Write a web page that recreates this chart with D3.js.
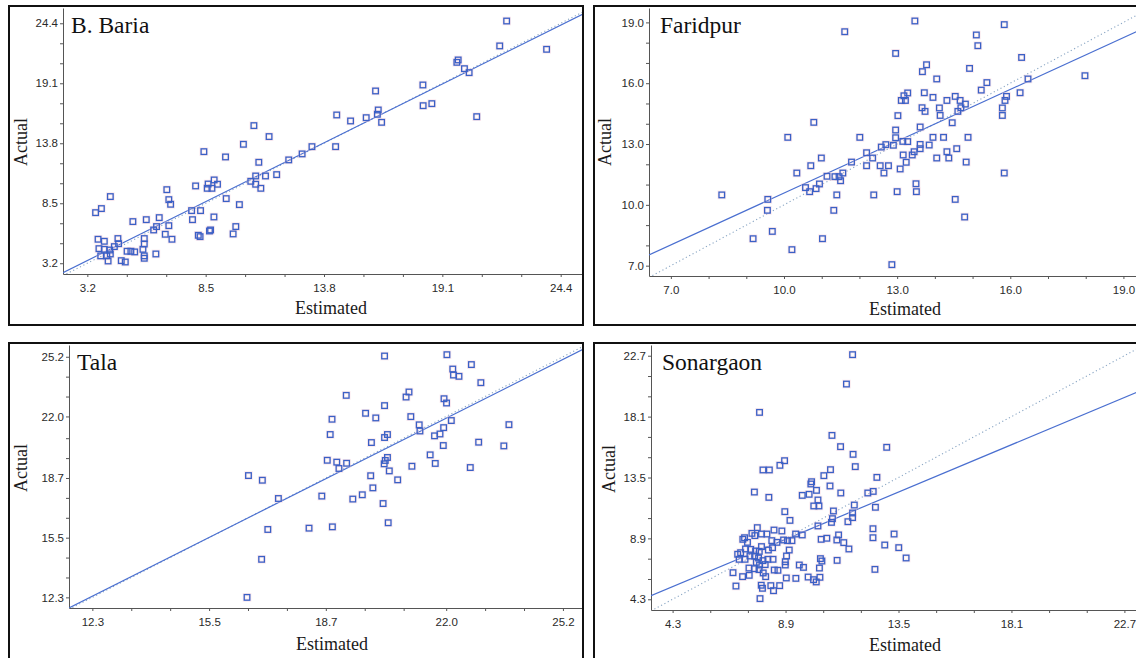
<!DOCTYPE html>
<html>
<head>
<meta charset="utf-8">
<script src="https://cdn.jsdelivr.net/npm/d3@7"></script>
<style>
  body { margin: 0; background: #fff; }
  svg { display: block; }
</style>
</head>
<body>
<svg id="chart" width="1136" height="658"></svg>
<script>
// ---- data ----
const bariaEst = [3.57,3.83,4.23,3.68,3.96,4.57,3.72,3.96,4.20,4.41,4.60,3.80,4.07,4.23,4.13,4.72,4.90,4.98,5.15,5.32,
  5.24,5.75,5.75,5.69,5.75,5.75,5.84,6.27,6.17,6.30,6.42,6.69,6.76,6.85,6.93,6.85,6.99,7.87,7.91,8.05,
  8.17,8.25,8.27,8.42,8.57,8.61,8.78,8.88,9.03,8.67,8.72,8.87,9.39,9.42,9.73,9.85,10.01,10.19,10.52,10.66,
  10.74,10.74,10.88,10.97,11.18,11.34,11.68,12.22,12.82,13.26,14.32,14.37,14.99,15.69,16.11,16.23,16.19,16.38,
  18.23,18.24,18.63,19.75,19.81,20.09,20.30,20.64,21.67,21.98,23.77];
const bariaAct = [7.67,8.03,9.09,5.32,5.14,5.38,4.49,4.43,4.37,4.67,4.93,3.85,3.85,4.02,3.40,3.43,3.31,4.26,4.26,4.20,
  6.88,5.38,4.90,4.43,3.85,3.64,7.05,4.02,6.14,6.44,7.23,5.76,9.70,8.82,8.41,6.52,5.32,7.85,7.05,10.03,
  5.67,5.55,7.85,13.06,9.82,10.20,9.82,10.56,10.18,6.05,6.14,7.29,12.59,8.91,5.79,6.44,8.38,13.71,10.44,15.36,
  10.91,10.18,12.12,9.82,10.91,14.39,11.03,12.33,12.86,13.50,13.50,16.30,15.77,16.06,18.42,16.74,16.36,15.65,
  18.95,17.12,17.30,20.95,21.16,20.39,20.04,16.15,22.40,24.60,22.10];

const faridpurEst = [8.35,11.61,10.79,10.10,12.01,9.18,9.57,9.56,9.69,10.21,11.02,10.34,10.71,10.99,10.57,10.68,10.85,10.94,11.14,11.32,
  11.40,11.35,11.46,11.50,11.56,11.79,12.19,12.19,12.35,12.38,12.55,12.58,12.65,13.47,15.84,12.96,15.10,15.14,13.78,13.67,
  14.05,14.92,16.30,16.47,17.98,15.38,15.23,16.26,15.90,15.86,15.79,15.79,13.28,13.18,13.11,13.22,13.72,13.95,14.32,14.54,
  14.67,14.81,14.69,14.61,13.66,13.74,14.12,14.14,13.02,14.46,13.61,12.96,12.96,13.95,14.23,14.88,12.70,12.90,13.15,13.28,
  13.61,13.61,13.85,12.77,13.08,13.16,13.24,13.40,13.45,14.05,14.37,14.32,14.58,14.83,15.84,13.50,13.51,13.00,14.54,14.79,
  12.86];
const faridpurAct = [10.49,18.54,14.07,13.33,13.33,8.33,10.27,9.73,8.69,7.79,8.33,11.57,11.93,12.31,10.85,10.65,10.80,11.03,11.41,9.73,
  10.49,11.39,11.39,11.19,11.57,12.11,12.57,11.93,12.31,10.49,11.93,12.85,11.57,19.07,18.89,17.47,18.38,17.85,16.91,16.57,
  16.21,16.73,17.27,16.21,16.37,16.03,15.66,15.53,15.35,15.15,14.78,14.41,15.52,15.38,15.15,15.15,15.53,15.30,15.15,15.35,
  15.15,14.97,14.79,14.61,14.79,14.61,14.78,14.41,14.40,14.05,13.84,13.69,13.31,13.33,13.33,13.33,12.97,12.94,13.13,13.12,
  12.98,12.77,12.95,11.93,11.77,12.46,12.10,12.46,12.62,12.31,12.31,12.62,12.77,12.11,11.57,11.04,10.65,10.65,10.27,9.40,
  7.05];

const talaEst = [16.58,16.96,17.40,17.11,16.94,16.54,20.31,22.02,22.69,22.18,22.20,22.35,22.95,19.26,20.98,20.90,21.94,22.01,20.31,19.79,
  20.07,21.03,18.87,22.14,23.72,21.26,21.28,21.93,18.82,20.39,20.31,21.83,21.68,19.95,22.89,21.92,23.58,21.56,18.74,19.00,
  19.27,19.06,20.39,20.33,20.30,21.70,21.06,20.44,22.66,19.93,20.67,19.99,18.59,19.70,19.44,20.27,20.41,18.24,18.88];
const talaAct = [18.83,18.58,17.60,15.94,14.34,12.30,25.24,25.31,24.78,24.54,24.22,24.15,23.81,23.13,23.31,23.04,22.95,22.72,22.58,22.17,
  21.92,21.99,21.85,21.78,21.56,21.55,21.22,21.40,21.03,21.03,20.87,21.06,20.96,20.60,20.62,20.44,20.42,19.94,19.65,19.55,
  19.49,19.21,19.80,19.64,19.46,19.48,19.33,19.08,19.26,18.82,18.60,18.17,17.73,17.80,17.57,17.33,16.30,16.01,16.08];

const sonargaonEst = [11.63,11.38,11.14,13.02,11.65,11.74,12.62,11.15,12.25,12.47,11.70,12.56,11.63,11.63,11.44,12.46,12.46,13.32,11.06,10.99,
  11.27,11.48,12.94,13.51,13.81,11.00,12.54,7.84,10.79,8.86,8.67,7.98,8.24,10.73,10.46,10.71,9.96,9.93,9.86,9.58,
  10.16,10.22,10.26,10.05,7.63,8.22,8.87,9.08,10.85,10.81,10.77,10.22,10.58,10.35,7.75,7.53,7.23,7.16,7.35,7.65,
  7.92,8.14,8.43,8.75,8.82,8.98,9.16,9.31,9.58,8.34,8.55,8.37,8.20,7.92,7.83,7.68,7.48,7.27,7.07,6.95,
  7.01,7.25,7.45,7.64,7.80,7.98,8.18,8.39,7.71,7.84,8.07,7.41,7.63,7.82,7.99,8.09,8.44,8.59,8.89,8.89,
  8.94,9.05,8.93,9.32,9.46,9.63,9.82,10.04,10.15,10.28,10.30,10.32,10.38,6.76,7.15,7.42,6.88,7.91,7.96,7.86,
  8.30,8.41,8.66];
const sonargaonAct = [22.78,20.56,15.83,15.78,15.25,14.32,13.51,12.33,12.33,12.45,11.42,11.25,10.82,10.47,10.16,9.63,8.95,9.23,9.16,8.78,
  8.58,8.10,8.40,8.20,7.42,7.24,6.56,18.42,16.68,14.77,14.42,14.07,14.07,14.09,13.64,12.86,13.18,13.01,12.23,12.15,
  12.53,11.80,11.35,11.35,12.40,12.00,10.92,10.26,10.97,10.39,10.11,9.84,8.91,8.83,9.71,9.28,8.95,8.83,8.60,9.11,
  9.23,9.23,9.53,9.46,8.78,8.73,8.73,9.23,9.16,8.73,8.60,8.20,8.02,8.28,7.92,7.95,8.07,8.10,7.82,7.70,
  7.32,7.32,7.57,7.57,7.42,7.22,7.32,7.32,7.09,6.89,6.92,6.66,6.61,6.54,6.29,6.01,6.51,6.49,6.89,7.14,
  7.57,8.02,5.91,5.88,6.89,6.71,5.98,5.78,5.61,6.66,5.96,7.37,7.19,6.31,6.01,6.11,5.30,5.36,5.13,4.35,
  5.33,4.95,5.33];

// fitted line [slope, intercept] per panel
const bariaFit = [0.981, 0.30];
const faridpurFit = [0.852, 2.06];
const talaFit = [0.984, 0.26];
const sonargaonFit = [0.777, 1.91];

// tick labels and axis ranges
const bariaTicks = [3.2, 8.5, 13.8, 19.1, 24.4];
const faridpurTicks = [7.0, 10.0, 13.0, 16.0, 19.0];
const talaTicks = [12.3, 15.5, 18.7, 22.0, 25.2];
const sonargaonTicks = [4.3, 8.9, 13.5, 18.1, 22.7];

const bariaX = [2.11, 25.4], bariaY = [2.25, 25.75];
const faridpurX = [6.42, 19.97], faridpurY = [6.49, 19.71];
const talaX = [11.66, 25.75], talaY = [11.73, 25.83];
const sonargaonX = [3.42, 24.15], sonargaonY = [3.49, 23.51];

const titles = ["B. Baria", "Faridpur", "Tala", "Sonargaon"];

// ---- layout ----
const panels = [
  { title: titles[0], est: bariaEst, act: bariaAct, fit: bariaFit, ticks: bariaTicks, xd: bariaX, yd: bariaY,
    box: [9, 6, 583, 325], plot: { l: 63, r: 583, t: 8, b: 274 }, xl: 331, xlY: 314, yl: 27, ylY: 142 },
  { title: titles[1], est: faridpurEst, act: faridpurAct, fit: faridpurFit, ticks: faridpurTicks, xd: faridpurX, yd: faridpurY,
    box: [594, 6, 1180, 325], plot: { l: 649, r: 1160, t: 8, b: 276 }, xl: 905, xlY: 315, yl: 611, ylY: 142 },
  { title: titles[2], est: talaEst, act: talaAct, fit: talaFit, ticks: talaTicks, xd: talaX, yd: talaY,
    box: [9, 343, 583, 690], plot: { l: 69, r: 583, t: 345, b: 608 }, xl: 332, xlY: 650, yl: 27, ylY: 468 },
  { title: titles[3], est: sonargaonEst, act: sonargaonAct, fit: sonargaonFit, ticks: sonargaonTicks, xd: sonargaonX, yd: sonargaonY,
    box: [594, 343, 1180, 690], plot: { l: 651, r: 1160, t: 345, b: 610 }, xl: 905, xlY: 651, yl: 615, ylY: 469 }
];

const svg = d3.select("#chart");
svg.append("rect").attr("width", 1136).attr("height", 658).attr("fill", "#fff");

const fmt = d3.format(".1f");

panels.forEach((p, idx) => {
  const g = svg.append("g");
  const x = d3.scaleLinear().domain(p.xd).range([p.plot.l, p.plot.r]);
  const y = d3.scaleLinear().domain(p.yd).range([p.plot.b, p.plot.t]);

  const clipId = "clip" + idx;
  svg.append("clipPath").attr("id", clipId)
    .append("rect")
    .attr("x", p.plot.l).attr("y", p.plot.t)
    .attr("width", p.plot.r - p.plot.l).attr("height", p.plot.b - p.plot.t);

  // minor ticks: three steps between labelled ticks
  const step = (p.ticks[1] - p.ticks[0]) / 3;
  const minor = [];
  for (let i = 0; i < p.ticks.length - 1; i++) {
    minor.push(p.ticks[i] + step, p.ticks[i] + 2 * step);
  }

  const xMinor = g.append("g").attr("transform", `translate(0,${p.plot.b})`)
    .call(d3.axisBottom(x).tickValues(minor).tickSize(3).tickSizeOuter(0).tickFormat(""));
  const yMinor = g.append("g").attr("transform", `translate(${p.plot.l},0)`)
    .call(d3.axisLeft(y).tickValues(minor).tickSize(3).tickSizeOuter(0).tickFormat(""));
  [xMinor, yMinor].forEach(a => a.select(".domain").remove());

  const xAxis = g.append("g").attr("transform", `translate(0,${p.plot.b})`)
    .call(d3.axisBottom(x).tickValues(p.ticks).tickSize(3).tickSizeOuter(0).tickPadding(7).tickFormat(fmt));
  const yAxis = g.append("g").attr("transform", `translate(${p.plot.l},0)`)
    .call(d3.axisLeft(y).tickValues(p.ticks).tickSize(3).tickSizeOuter(0).tickPadding(2).tickFormat(fmt));

  [xAxis, yAxis, xMinor, yMinor].forEach(a => {
    a.attr("font-family", "'Liberation Sans', Arial, sans-serif").attr("font-size", 11.5);
    a.selectAll("line").attr("stroke", "#555");
    a.select(".domain").attr("stroke", "#555");
    a.selectAll("text").attr("fill", "#2a2a2a");
  });

  // 1:1 reference line (dotted) and fitted line
  const lines = g.append("g").attr("clip-path", `url(#${clipId})`);
  const lo = p.xd[0], hi = p.xd[1];
  lines.append("line")
    .attr("x1", x(lo)).attr("y1", y(lo)).attr("x2", x(hi)).attr("y2", y(hi))
    .attr("stroke", "#8aa6c4").attr("stroke-width", 1.1).attr("stroke-dasharray", "1.2,2.6");
  lines.append("line")
    .attr("x1", x(lo)).attr("y1", y(p.fit[0] * lo + p.fit[1]))
    .attr("x2", x(hi)).attr("y2", y(p.fit[0] * hi + p.fit[1]))
    .attr("stroke", "#4a6fd0").attr("stroke-width", 1.2);

  // points
  const pts = p.est.map((e, i) => [e, p.act[i]]);
  const s = 5.6;
  const pg = g.append("g").attr("clip-path", `url(#${clipId})`);
  pg.selectAll("rect.halo").data(pts).join("rect")
    .attr("class", "halo")
    .attr("x", d => x(d[0]) - s / 2).attr("y", d => y(d[1]) - s / 2)
    .attr("width", s).attr("height", s)
    .attr("fill", "none").attr("stroke", "#f3cdd8").attr("stroke-width", 3).attr("opacity", 0.45);
  pg.selectAll("rect.pt").data(pts).join("rect")
    .attr("class", "pt")
    .attr("x", d => x(d[0]) - s / 2).attr("y", d => y(d[1]) - s / 2)
    .attr("width", s).attr("height", s)
    .attr("fill", "none").attr("stroke", "#3a60c6").attr("stroke-width", 1.3);

  // panel frame
  g.append("rect")
    .attr("x", p.box[0]).attr("y", p.box[1])
    .attr("width", p.box[2] - p.box[0]).attr("height", p.box[3] - p.box[1])
    .attr("fill", "none").attr("stroke", "#111").attr("stroke-width", 2);

  // texts
  g.append("text")
    .attr("x", p.plot.l + (idx % 2 === 0 ? 8 : 11)).attr("y", p.plot.t + 24.5)
    .attr("font-family", "'Liberation Serif', 'Times New Roman', serif")
    .attr("font-size", 23.5).attr("fill", "#111")
    .text(p.title);

  g.append("text")
    .attr("x", p.xl).attr("y", p.xlY)
    .attr("text-anchor", "middle")
    .attr("font-family", "'Liberation Serif', 'Times New Roman', serif")
    .attr("font-size", 18).attr("fill", "#1a1a1a")
    .text("Estimated");

  g.append("text")
    .attr("transform", `translate(${p.yl},${p.ylY}) rotate(-90)`)
    .attr("text-anchor", "middle")
    .attr("font-family", "'Liberation Serif', 'Times New Roman', serif")
    .attr("font-size", 18).attr("fill", "#1a1a1a")
    .text("Actual");
});
</script>
</body>
</html>
